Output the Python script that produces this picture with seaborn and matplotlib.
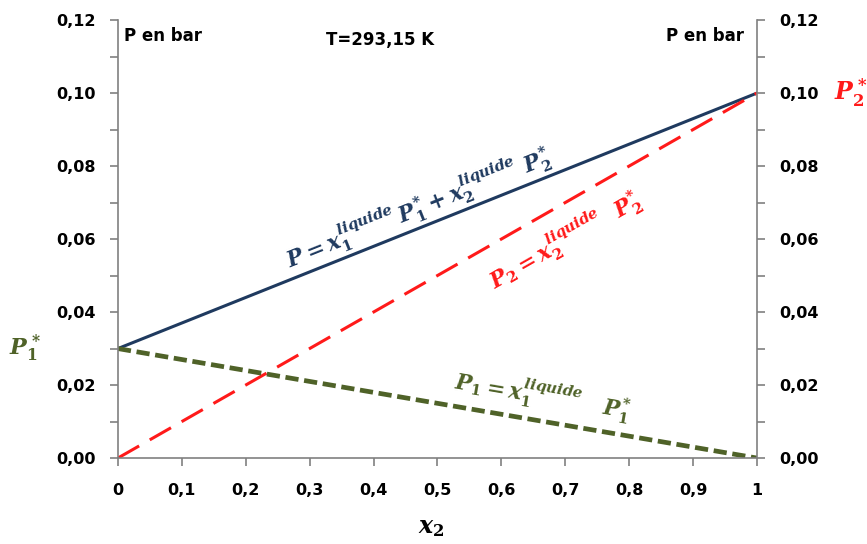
import matplotlib
matplotlib.use("Agg")
import matplotlib.pyplot as plt
import seaborn as sns
import numpy as np
from matplotlib.ticker import MultipleLocator, FuncFormatter

# Raoult's law, ideal binary mixture at T = 293,15 K
x2 = [0.0, 1.0]
p_total = [0.03, 0.10]   # P = x1 P1* + x2 P2*
p2 = [0.0, 0.10]         # P2 = x2 P2*
p1 = [0.03, 0.0]         # P1 = x1 P1*
x_ticks = [0, 0.1, 0.2, 0.3, 0.4, 0.5, 0.6, 0.7, 0.8, 0.9, 1.0]
y_ticks = [0.0, 0.02, 0.04, 0.06, 0.08, 0.10, 0.12]

sns.set_style("white")
plt.rcParams["font.family"] = ["DejaVu Sans"]
plt.rcParams["text.color"] = "black"
plt.rcParams["xtick.color"] = "black"
plt.rcParams["ytick.color"] = "black"
plt.rcParams["axes.labelcolor"] = "black"
plt.rcParams["mathtext.fontset"] = "custom"
plt.rcParams["mathtext.it"] = "DejaVu Serif:italic:bold"
plt.rcParams["mathtext.rm"] = "DejaVu Serif:bold"
plt.rcParams["mathtext.bf"] = "DejaVu Serif:bold"

navy = "#1f3a5f"
red = "#ff1a1a"
green = "#4f6228"
grey = "#808080"

fig = plt.figure(figsize=(8.67, 5.44), dpi=100)
ax = fig.add_axes([0.136, 0.158, 0.737, 0.805])

sns.lineplot(x=x2, y=p_total, ax=ax, color=navy, lw=2.2)
sns.lineplot(x=x2, y=p2, ax=ax, color=red, lw=2.2)
ax.lines[-1].set_dashes([8, 4])
sns.lineplot(x=x2, y=p1, ax=ax, color=green, lw=3.4)
ax.lines[-1].set_dashes([2.8, 1.2])

ax.set_xlim(0, 1)
ax.set_ylim(0, 0.12)
ax.set_xticks(x_ticks)
ax.set_yticks(y_ticks)
ax.yaxis.set_minor_locator(MultipleLocator(0.01))
ax.xaxis.set_major_formatter(FuncFormatter(lambda v, _: ("%g" % round(v, 2)).replace(".", ",")))
ax.yaxis.set_major_formatter(FuncFormatter(lambda v, _: ("%.2f" % v).replace(".", ",")))

for side in ["left", "right", "bottom"]:
    ax.spines[side].set_color(grey)
    ax.spines[side].set_linewidth(1.2)
ax.spines["top"].set_visible(False)

ax.tick_params(axis="both", which="both", direction="out", color=grey, width=1.2,
               left=True, right=True, bottom=True, labelright=True)
ax.tick_params(axis="both", which="major", length=6, labelsize=11.5, pad=10,
               labelcolor="black")
ax.tick_params(axis="y", which="minor", length=6)
ax.tick_params(axis="x", pad=12)
for lab in ax.get_xticklabels() + ax.get_yticklabels():
    lab.set_fontweight("bold")
for lab in ax.yaxis.get_ticklabels(which="major"):
    lab.set_fontweight("bold")

ax.set_xlabel(r"$x_2$", fontsize=17)
ax.xaxis.set_label_coords(0.49, -0.13)

ax.text(0.01, 0.985, "P en bar", transform=ax.transAxes, fontsize=12,
        fontweight="bold", va="top", ha="left")
ax.text(0.98, 0.985, "P en bar", transform=ax.transAxes, fontsize=12,
        fontweight="bold", va="top", ha="right")
ax.text(0.41, 0.975, "T=293,15 K", transform=ax.transAxes, fontsize=12,
        fontweight="bold", va="top", ha="center")

ax.text(1.12, 0.100, r"$P_2^*$", transform=ax.get_yaxis_transform(), color=red,
        fontsize=17, va="center", ha="left", clip_on=False)
ax.text(-0.17, 0.030, r"$P_1^*$", transform=ax.get_yaxis_transform(), color=green,
        fontsize=16, va="center", ha="left", clip_on=False)

def slope_angle(xs, ys):
    p0 = ax.transData.transform((xs[0], ys[0]))
    p1_ = ax.transData.transform((xs[1], ys[1]))
    return np.degrees(np.arctan2(p1_[1] - p0[1], p1_[0] - p0[0]))

ax.text(0.47, 0.0685, r"$P = x_1^{liquide}\,P_1^{*} + x_2^{liquide}\ P_2^{*}$",
        color=navy, fontsize=15.5, rotation=slope_angle(x2, p_total),
        rotation_mode="anchor", ha="center", va="center")
ax.text(0.70, 0.0597, r"$P_2 = x_2^{liquide}\ \ P_2^{*}$",
        color=red, fontsize=15.5, rotation=slope_angle(x2, p2),
        rotation_mode="anchor", ha="center", va="center")
ax.text(0.665, 0.0172, r"$P_1 = x_1^{liquide}\ \ \ P_1^{*}$",
        color=green, fontsize=15.5, rotation=slope_angle(x2, p1),
        rotation_mode="anchor", ha="center", va="center")

fig.savefig("out.png", dpi=100)
